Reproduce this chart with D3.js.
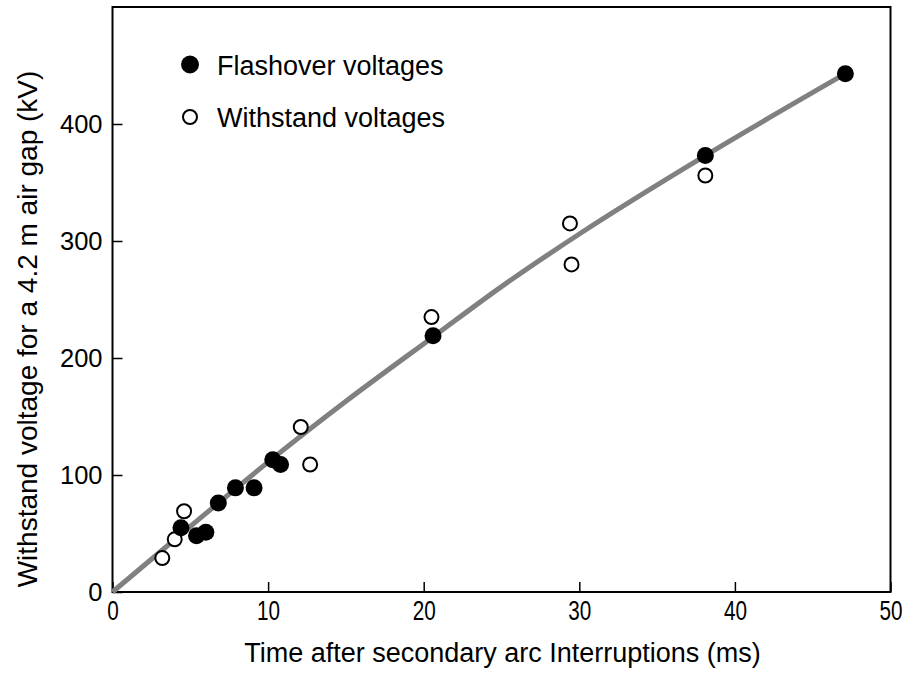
<!DOCTYPE html>
<html>
<head>
<meta charset="utf-8">
<script src="https://cdn.jsdelivr.net/npm/d3@7"></script>
<style>
  body { margin: 0; background: #fff; }
  text { fill: #000; }
</style>
</head>
<body>
<script>
// Flashover voltages (filled circles): time in ms, voltage in kV
const flashTime = [4.4, 5.4, 6.0, 6.8, 7.9, 9.1, 10.3, 10.8, 20.6, 38.1, 47.1];
const flashKV   = [55, 48, 51, 76, 89, 89, 113, 109, 219, 373, 443];

// Withstand voltages (open circles)
const withTime = [3.2, 4.0, 4.6, 12.1, 12.7, 20.5, 29.4, 29.5, 38.1];
const withKV   = [29, 45, 69, 141, 109, 235, 315, 280, 356];

// Gray trend curve
const curveTime = [0, 5, 10, 15, 20.6, 25, 30, 38.1, 47.1];
const curveKV   = [0, 56, 111, 163, 218, 261, 306, 373, 443];

const xTicks = [0, 10, 20, 30, 40, 50];
const yTicks = [0, 100, 200, 300, 400];

const legendLabels = ["Flashover voltages", "Withstand voltages"];

const W = 905, H = 675;
const margin = {top: 7, right: 14.5, bottom: 83, left: 112.5};
const width = W - margin.left - margin.right;
const height = H - margin.top - margin.bottom;

const font = "'Liberation Sans', Arial, sans-serif";

const svg = d3.select("body").append("svg")
    .attr("width", W)
    .attr("height", H);

const g = svg.append("g")
    .attr("transform", "translate(" + margin.left + "," + margin.top + ")");

const x = d3.scaleLinear().domain([0, 50]).range([0, width]);
const y = d3.scaleLinear().domain([0, 500]).range([height, 0]);

// axes with inward ticks
const xAxis = g.append("g")
    .attr("transform", "translate(0," + height + ")")
    .call(d3.axisBottom(x).tickValues(xTicks).tickFormat(d3.format("d"))
        .tickSizeInner(-10).tickSizeOuter(0).tickPadding(8));
// x tick labels are condensed in the original
xAxis.selectAll("text")
    .style("font-family", font)
    .style("font-size", "28px")
    .attr("transform", "scale(0.74,1)");

const yAxis = g.append("g")
    .call(d3.axisLeft(y).tickValues(yTicks).tickFormat(d3.format("d"))
        .tickSizeInner(-10).tickSizeOuter(0).tickPadding(10));
yAxis.selectAll("text")
    .style("font-family", font)
    .style("font-size", "25.5px");

[xAxis, yAxis].forEach(a => {
    a.select(".domain").remove();
    a.selectAll("line").attr("stroke", "#000").attr("stroke-width", 1.5);
});

// frame
g.append("rect")
    .attr("x", 0).attr("y", 0)
    .attr("width", width).attr("height", height)
    .attr("fill", "none")
    .attr("stroke", "#000")
    .attr("stroke-width", 2);

// trend curve
const curveData = curveTime.map((t, i) => [t, curveKV[i]]);
g.append("path")
    .datum(curveData)
    .attr("fill", "none")
    .attr("stroke", "#808080")
    .attr("stroke-width", 5)
    .attr("d", d3.line()
        .x(d => x(d[0]))
        .y(d => y(d[1]))
        .curve(d3.curveMonotoneX));

// withstand points (open)
g.selectAll(".withstand")
    .data(withTime.map((t, i) => [t, withKV[i]]))
    .enter().append("circle")
    .attr("class", "withstand")
    .attr("cx", d => x(d[0]))
    .attr("cy", d => y(d[1]))
    .attr("r", 7)
    .attr("fill", "#fff")
    .attr("stroke", "#000")
    .attr("stroke-width", 2);

// flashover points (filled)
g.selectAll(".flash")
    .data(flashTime.map((t, i) => [t, flashKV[i]]))
    .enter().append("circle")
    .attr("class", "flash")
    .attr("cx", d => x(d[0]))
    .attr("cy", d => y(d[1]))
    .attr("r", 8.5)
    .attr("fill", "#000");

// legend
const legend = svg.selectAll(".legend")
    .data(legendLabels)
    .enter().append("g")
    .attr("class", "legend")
    .attr("transform", (d, i) => "translate(190," + (64.5 + i * 52.5) + ")");

legend.append("circle")
    .attr("r", (d, i) => i === 0 ? 9 : 7)
    .attr("fill", (d, i) => i === 0 ? "#000" : "#fff")
    .attr("stroke", "#000")
    .attr("stroke-width", (d, i) => i === 0 ? 0 : 2);

legend.append("text")
    .attr("x", 27)
    .attr("y", 10)
    .style("font-family", font)
    .style("font-size", "27px")
    .text(d => d);

// axis titles
svg.append("text")
    .attr("x", 502.5)
    .attr("y", 662)
    .attr("text-anchor", "middle")
    .style("font-family", font)
    .style("font-size", "27px")
    .text("Time after secondary arc Interruptions (ms)");

svg.append("text")
    .attr("transform", "translate(37," + 329 + ") rotate(-90)")
    .attr("text-anchor", "middle")
    .style("font-family", font)
    .style("font-size", "28px")
    .text("Withstand voltage for a 4.2 m air gap (kV)");
</script>
</body>
</html>
